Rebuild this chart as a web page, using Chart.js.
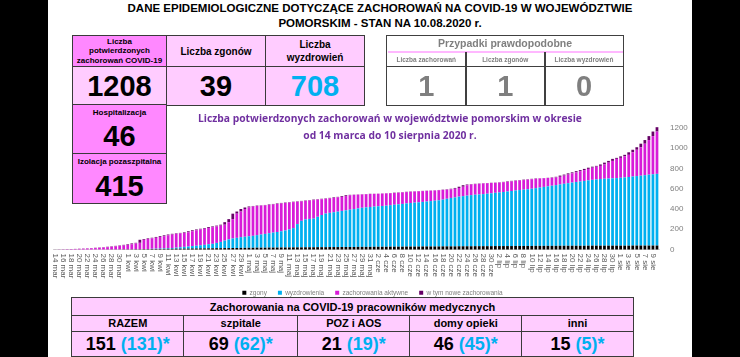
<!DOCTYPE html>
<html><head><meta charset="utf-8">
<script src="https://cdn.jsdelivr.net/npm/chart.js@4.4.1/dist/chart.umd.min.js"></script>
<style>
html,body{margin:0;padding:0;background:#000;width:740px;height:357px;overflow:hidden;font-family:"Liberation Sans",Arial,sans-serif;}
#panel{position:absolute;left:48px;top:0;width:644px;height:357px;background:#fff;}
.abs{position:absolute;box-sizing:border-box;}
.cell{position:absolute;box-sizing:border-box;border:1.5px solid #3a3a3a;display:flex;flex-direction:column;align-items:center;justify-content:center;text-align:center;font-weight:bold;color:#000;}
.pk{background:#ffccff;}
.mg{background:#ff88ff;}
.big{font-size:29px;line-height:30px;}
.gray{color:#7f7f7f;border-color:#404040;}
.blue{color:#00b0f0;}
#chartBox{position:absolute;left:48px;top:100px;width:644px;height:206px;}
</style></head>
<body>
<div id="panel"></div>
<div id="chartBox"><canvas id="c" width="644" height="206"></canvas></div>

<div class="abs" style="left:80px;top:1px;width:600px;text-align:center;font-weight:bold;font-size:11.5px;line-height:15px;color:#000;">DANE EPIDEMIOLOGICZNE DOTYCZĄCE ZACHOROWAŃ NA COVID-19 W WOJEWÓDZTWIE<br>POMORSKIM - STAN NA 10.08.2020 r.</div>

<div class="cell mg" style="left:72px;top:35px;width:95px;height:32px;font-size:8px;line-height:9.5px;">Liczba<br>potwierdzonych<br>zachorowań COVID-19</div>
<div class="cell pk" style="left:165.5px;top:35px;width:101px;height:32px;font-size:10px;">Liczba zgonów</div>
<div class="cell pk" style="left:265px;top:35px;width:100px;height:32px;font-size:10px;line-height:13px;">Liczba<br>wyzdrowień</div>
<div class="cell pk big" style="left:72px;top:65.5px;width:95px;height:40px;">1208</div>
<div class="cell pk big" style="left:165.5px;top:65.5px;width:101px;height:40px;">39</div>
<div class="cell pk big blue" style="left:265px;top:65.5px;width:100px;height:40px;">708</div>
<div class="cell mg" style="left:72px;top:104px;width:95px;height:50.5px;justify-content:flex-start;"><div style="font-size:8px;margin-top:3px;">Hospitalizacja</div><div class="big" style="margin-top:4px;">46</div></div>
<div class="cell mg" style="left:72px;top:153px;width:95px;height:51px;justify-content:flex-start;"><div style="font-size:8px;margin-top:3px;">Izolacja pozaszpitalna</div><div class="big" style="margin-top:5px;">415</div></div>

<div class="cell gray" style="left:386px;top:35px;width:238px;height:71px;"></div>
<div class="abs" style="left:386px;top:36px;width:238px;text-align:center;font-weight:bold;font-size:10.5px;line-height:15px;color:#7f7f7f;">Przypadki prawdopodobne</div>
<div class="abs" style="left:387.5px;top:51px;width:235px;height:1.5px;background:#ffb8ff;"></div>
<div class="cell gray" style="left:386px;top:52px;width:80.5px;height:15px;border-top:none;font-size:6.5px;">Liczba zachorowań</div>
<div class="cell gray" style="left:465px;top:52px;width:80.5px;height:15px;border-top:none;font-size:6.5px;">Liczba zgonów</div>
<div class="cell gray" style="left:544px;top:52px;width:80px;height:15px;border-top:none;font-size:6.5px;">Liczba wyzdrowień</div>
<div class="cell gray big" style="left:386px;top:65.5px;width:80.5px;height:40.5px;">1</div>
<div class="cell gray big" style="left:465px;top:65.5px;width:80.5px;height:40.5px;">1</div>
<div class="cell gray big" style="left:544px;top:65.5px;width:80px;height:40.5px;">0</div>

<div class="abs" style="left:190px;top:110px;width:400px;text-align:center;font-family:'Open Sans',sans-serif;font-weight:700;font-size:10.3px;line-height:16.5px;color:#7030a0;">Liczba potwierdzonych zachorowań w województwie pomorskim w okresie<br>od 14 marca do 10 sierpnia 2020 r.</div>

<div class="cell pk" style="left:71px;top:297px;width:563px;height:19px;font-size:11px;">Zachorowania na COVID-19 pracowników medycznych</div>
<div class="cell pk" style="left:71px;top:314.5px;width:113.5px;height:17.5px;font-size:11px;">RAZEM</div>
<div class="cell pk" style="left:183px;top:314.5px;width:115.5px;height:17.5px;font-size:11px;">szpitale</div>
<div class="cell pk" style="left:297px;top:314.5px;width:113.5px;height:17.5px;font-size:11px;">POZ i AOS</div>
<div class="cell pk" style="left:409px;top:314.5px;width:113.5px;height:17.5px;font-size:11px;">domy opieki</div>
<div class="cell pk" style="left:521px;top:314.5px;width:113px;height:17.5px;font-size:11px;">inni</div>
<div class="cell pk" style="left:71px;top:330.5px;width:113.5px;height:26.5px;font-size:18px;display:block;line-height:24px;">151 <span class="blue">(131)*</span></div>
<div class="cell pk" style="left:183px;top:330.5px;width:115.5px;height:26.5px;font-size:18px;display:block;line-height:24px;">69 <span class="blue">(62)*</span></div>
<div class="cell pk" style="left:297px;top:330.5px;width:113.5px;height:26.5px;font-size:18px;display:block;line-height:24px;">21 <span class="blue">(19)*</span></div>
<div class="cell pk" style="left:409px;top:330.5px;width:113.5px;height:26.5px;font-size:18px;display:block;line-height:24px;">46 <span class="blue">(45)*</span></div>
<div class="cell pk" style="left:521px;top:330.5px;width:113px;height:26.5px;font-size:18px;display:block;line-height:24px;">15 <span class="blue">(5)*</span></div>

<script>
const categories = [
'14 mar','15 mar','16 mar','17 mar','18 mar','19 mar','20 mar','21 mar','22 mar','23 mar','24 mar','25 mar','26 mar','27 mar','28 mar','29 mar','30 mar','31 mar',
'1 kwi','2 kwi','3 kwi','4 kwi','5 kwi','6 kwi','7 kwi','8 kwi','9 kwi','10 kwi','11 kwi','12 kwi','13 kwi','14 kwi','15 kwi','16 kwi','17 kwi','18 kwi','19 kwi','20 kwi','21 kwi','22 kwi','23 kwi','24 kwi','25 kwi','26 kwi','27 kwi','28 kwi','29 kwi','30 kwi',
'1 maj','2 maj','3 maj','4 maj','5 maj','6 maj','7 maj','8 maj','9 maj','10 maj','11 maj','12 maj','13 maj','14 maj','15 maj','16 maj','17 maj','18 maj','19 maj','20 maj','21 maj','22 maj','23 maj','24 maj','25 maj','26 maj','27 maj','28 maj','29 maj','30 maj','31 maj',
'1 cze','2 cze','3 cze','4 cze','5 cze','6 cze','7 cze','8 cze','9 cze','10 cze','11 cze','12 cze','13 cze','14 cze','15 cze','16 cze','17 cze','18 cze','19 cze','20 cze','21 cze','22 cze','23 cze','24 cze','25 cze','26 cze','27 cze','28 cze','29 cze','30 cze',
'1 lip','2 lip','3 lip','4 lip','5 lip','6 lip','7 lip','8 lip','9 lip','10 lip','11 lip','12 lip','13 lip','14 lip','15 lip','16 lip','17 lip','18 lip','19 lip','20 lip','21 lip','22 lip','23 lip','24 lip','25 lip','26 lip','27 lip','28 lip','29 lip','30 lip','31 lip',
'1 sie','2 sie','3 sie','4 sie','5 sie','6 sie','7 sie','8 sie','9 sie','10 sie'];

// cumulative confirmed cases
const totalCases = [1,2,3,4,5,6,8,10,12,14,
17,20,23,27,31,36,40,46,52,60,
66,96,104,110,116,124,132,140,148,155,
160,164,170,180,190,198,205,212,221,228,
236,245,270,300,354,375,400,415,425,430,
434,437,440,445,450,455,460,464,468,472,
476,480,484,488,493,497,501,505,510,516,
520,528,536,540,542,544,546,548,550,551,
552,554,556,558,561,564,567,570,573,575,
577,579,581,583,585,588,591,595,600,608,
620,635,642,646,649,652,655,657,659,661,
664,668,673,678,682,686,690,694,698,702,
704,706,708,712,718,730,740,752,762,774,
784,796,808,818,826,840,858,875,895,905,
920,935,960,985,1010,1045,1081,1120,1165,1208];

const deaths = [0,0,0,0,0,0,0,0,0,0,
0,0,0,1,1,1,1,2,2,2,
3,3,4,4,5,5,6,6,7,7,
8,8,9,9,10,10,11,11,12,12,
13,13,14,14,15,15,16,16,17,17,
18,18,18,19,19,19,20,20,20,21,
21,21,22,22,22,23,23,23,24,24,
24,25,25,25,25,26,26,26,26,27,
27,27,27,28,28,28,28,29,29,29,
29,30,30,30,30,30,31,31,31,31,
32,32,32,32,33,33,33,33,33,34,
34,34,34,34,35,35,35,35,35,36,
36,36,36,36,36,37,37,37,37,37,
37,37,38,38,38,38,38,38,38,38,
38,38,38,39,39,39,39,39,39,39];

const recovered = [0,0,0,0,0,0,0,0,0,0,
0,0,0,0,0,0,0,0,0,0,
0,0,0,1,2,3,4,5,6,8,
10,14,17,20,24,27,31,35,40,44,
52,62,74,86,94,100,106,110,114,118,
124,130,136,142,148,154,160,168,178,190,
230,262,275,280,283,300,318,332,338,344,
350,356,362,368,374,380,386,390,394,397,
400,403,406,410,414,418,422,426,430,434,
437,440,444,448,452,456,462,470,478,484,
490,495,500,505,508,511,514,518,522,526,
530,534,539,544,548,552,556,560,565,570,
576,582,588,594,600,606,612,618,624,630,
635,640,645,650,654,658,661,663,665,667,
670,674,678,682,686,690,695,700,704,708];

// daily new cases (part of active cases)
const newCases = [1,1,1,1,1,1,2,2,2,2,
3,3,3,4,4,5,4,6,6,8,
6,30,8,6,6,8,8,8,8,7,
5,4,6,10,10,8,7,7,9,7,
8,9,25,30,54,21,25,15,10,5,
4,3,3,5,5,5,5,4,4,4,
4,4,4,4,5,4,4,4,5,6,
4,8,8,4,2,2,2,2,2,1,
1,2,2,2,3,3,3,3,3,2,
2,2,2,2,2,3,3,4,5,8,
12,15,7,4,3,3,3,2,2,2,
3,4,5,5,4,4,4,4,4,4,
2,2,2,4,6,12,10,12,10,12,
10,12,12,10,8,14,18,17,20,10,
15,15,25,25,25,35,36,39,45,43];

const yTicks = [0,200,400,600,800,1000,1200];
const seriesNames = ['zgony','wyzdrowienia','zachorowania aktywne','w tym nowe zachorowania'];

// active cases shown without the new ones, which are stacked on top
const activeOnly = totalCases.map((t,i)=>t-deaths[i]-recovered[i]-newCases[i]);

const xLabelPlugin = {
  id:'xlabels',
  afterDraw(chart){
    const {ctx, chartArea} = chart; const x = chart.scales.x;
    ctx.save();
    ctx.fillStyle='#595959';
    ctx.font='8px "Liberation Sans", Arial, sans-serif';
    ctx.textAlign='left'; ctx.textBaseline='middle';
    categories.forEach((c,i)=>{
      if(i%2!==0) return;
      const px = x.getPixelForValue(i);
      ctx.save(); ctx.translate(px, chartArea.bottom+4); ctx.rotate(Math.PI/2);
      ctx.fillText(c,0,0); ctx.restore();
    });
    ctx.restore();
  }
};

const common = {barPercentage:0.68, categoryPercentage:1, borderWidth:0, clip:false, stack:'s'};
new Chart(document.getElementById('c'), {
  type:'bar',
  data:{
    labels:categories,
    datasets:[
      Object.assign({label:seriesNames[0], data:deaths, backgroundColor:'#000000'}, common),
      Object.assign({label:seriesNames[1], data:recovered, backgroundColor:'#00b0f0'}, common),
      Object.assign({label:seriesNames[2], data:activeOnly, backgroundColor:'#d81bd8'}, common),
      Object.assign({label:seriesNames[3], data:newCases, backgroundColor:'#660066'}, common)
    ]
  },
  options:{
    responsive:false, animation:false, devicePixelRatio:1,
    layout:{padding:{left:5,top:28,right:0,bottom:0}},
    plugins:{
      legend:{position:'bottom', labels:{boxWidth:4, boxHeight:4, padding:11, color:'#7f7f7f', font:{size:6.5, family:'"Liberation Sans", Arial, sans-serif'}}},
      tooltip:{enabled:false}
    },
    scales:{
      x:{stacked:true, offset:true, grid:{display:false, drawTicks:false}, border:{display:true, color:'#d9d9d9'},
         ticks:{display:false}, afterFit(s){ s.height = 29; }},
      y:{stacked:true, position:'right', min:0, max:1200,
         grid:{display:false, drawTicks:false}, border:{display:false},
         afterBuildTicks(s){ s.ticks = yTicks.map(v=>({value:v})); },
         ticks:{padding:11, color:'#7f7f7f', font:{size:8, family:'"Liberation Sans", Arial, sans-serif'}, callback:(v)=>String(v)},
         afterFit(s){ s.width = 33; }}
    }
  },
  plugins:[xLabelPlugin]
});
</script>
</body></html>
